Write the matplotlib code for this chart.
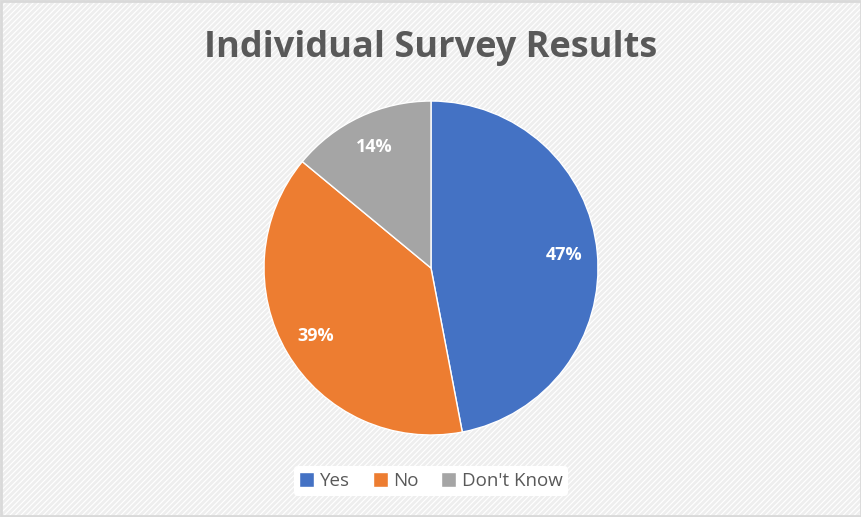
import matplotlib.pyplot as plt
from matplotlib.patches import Rectangle

labels = ['Yes', 'No', "Don't Know"]
shares = [47, 39, 14]
colors = ['#4472c4', '#ed7d31', '#a5a5a5']

plt.rcParams['font.family'] = ['Open Sans', 'DejaVu Sans']
plt.rcParams['hatch.linewidth'] = 2.0
plt.rcParams['hatch.color'] = '#eeeeee'

fig = plt.figure(figsize=(8.62, 5.17), dpi=100)
fig.patch.set_facecolor('white')

# striped background + border
bg = Rectangle((0, 0), 1, 1, transform=fig.transFigure, facecolor='white',
               edgecolor='#eeeeee', hatch='//////', linewidth=0, zorder=-2)
fig.patches.append(bg)
border = Rectangle((0.001, 0.002), 0.998, 0.996, transform=fig.transFigure,
                   facecolor='none', edgecolor='#d9d9d9', linewidth=2, zorder=5)
fig.patches.append(border)

ax = fig.add_axes([0.5 - 0.19375, 0.4816 - 0.323, 0.3875, 0.646])
wedges, texts, autotexts = ax.pie(
    shares, colors=colors, startangle=90, counterclock=False,
    autopct='%d%%', pctdistance=0.8,
    wedgeprops=dict(edgecolor='white', linewidth=1),
    textprops=dict(color='white', fontsize=13, fontweight='bold'))
ax.set_xlim(-1, 1)
ax.set_ylim(-1, 1)
ax.set_aspect('equal')

fig.text(0.5, 1 - 48 / 517, 'Individual Survey Results', ha='center', va='center',
         fontsize=26, fontweight='bold', color='#595959')

leg = fig.legend(wedges, labels, loc='center', bbox_to_anchor=(0.5, 1 - 481 / 517),
                 ncol=3, frameon=True, fontsize=13.5, handlelength=0.8, handleheight=0.8,
                 handletextpad=0.3, columnspacing=1.2, borderpad=0.3)
leg.get_frame().set_edgecolor('none')
leg.get_frame().set_facecolor('white')
leg.get_frame().set_alpha(1)
for t in leg.get_texts():
    t.set_color('#595959')

fig.savefig('out.png', dpi=100)
